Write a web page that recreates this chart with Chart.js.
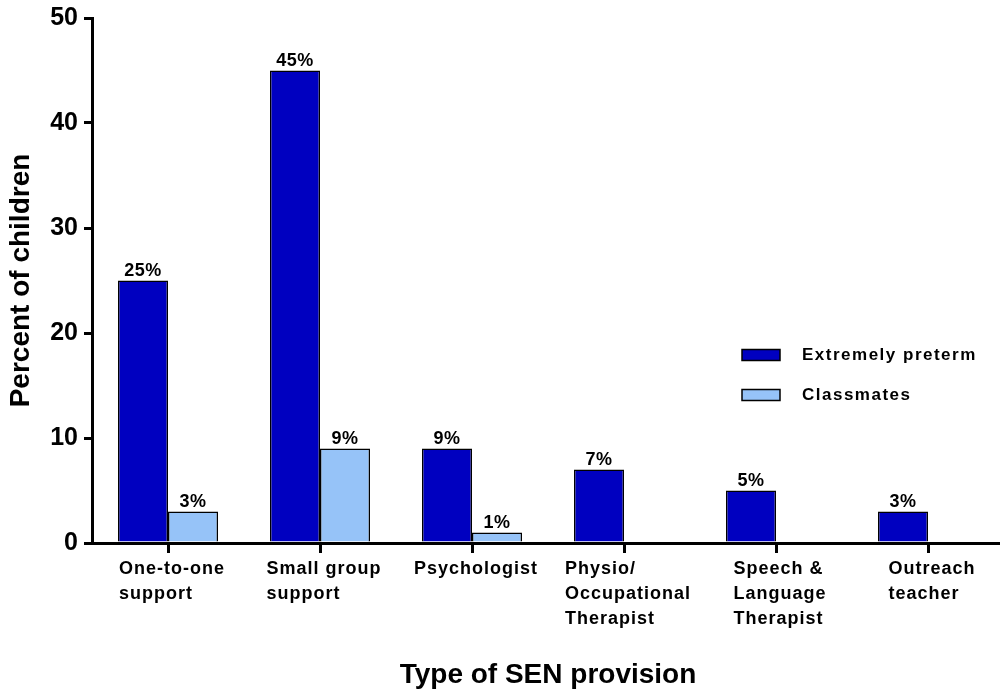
<!DOCTYPE html>
<html>
<head>
<meta charset="utf-8">
<script src="https://cdn.jsdelivr.net/npm/chart.js@4"></script>
<style>
    html, body { margin: 0; padding: 0; background: #fff; overflow: hidden; }
    #wrap { width: 1000px; height: 694px; overflow: hidden; }
</style>
</head>
<body>
<div id="wrap"><canvas id="senChart" width="1004" height="694"></canvas></div>
<script>
const categories = [
    ["One-to-one", "support"],
    ["Small group", "support"],
    ["Psychologist"],
    ["Physio/", "Occupational", "Therapist"],
    ["Speech &", "Language", "Therapist"],
    ["Outreach", "teacher"]
];
const pretermValues = [25, 45, 9, 7, 5, 3];
const classmateValues = [3, 9, 1, null, null, null];
const yTicks = [0, 10, 20, 30, 40, 50];

const FONT = "'Liberation Sans', Arial, Helvetica, sans-serif";
const DARK = "#0000c0";
const LIGHT = "#96c3f8";

// x labels: left-aligned block, centred under each tick
const xLabelPlugin = {
    id: "xLabels",
    afterDraw(chart) {
        const ctx = chart.ctx;
        const xs = chart.scales.x;
        ctx.save();
        ctx.font = "bold 18px " + FONT;
        ctx.letterSpacing = "1px";
        ctx.fillStyle = "#000";
        ctx.textAlign = "left";
        ctx.textBaseline = "alphabetic";
        categories.forEach((lines, i) => {
            const cx = xs.getPixelForTick(i);
            const w = Math.max(...lines.map(l => ctx.measureText(l).width));
            lines.forEach((l, j) => {
                ctx.fillText(l, cx - w / 2 + 4, xs.top + 31 + j * 25);
            });
        });
        ctx.restore();
    }
};

// percentage labels above bars
const valueLabelPlugin = {
    id: "valueLabels",
    afterDatasetsDraw(chart) {
        const ctx = chart.ctx;
        ctx.save();
        ctx.font = "bold 18px " + FONT;
        ctx.letterSpacing = "0.5px";
        ctx.fillStyle = "#000";
        ctx.textAlign = "center";
        ctx.textBaseline = "alphabetic";
        chart.data.datasets.forEach((ds, di) => {
            chart.getDatasetMeta(di).data.forEach((bar, i) => {
                const v = ds.data[i];
                if (v == null) return;
                ctx.fillText(v + "%", bar.x, bar.y - 5);
            });
        });
        ctx.restore();
    }
};

// legend inside the plot
const legendPlugin = {
    id: "innerLegend",
    afterDraw(chart) {
        const ctx = chart.ctx;
        ctx.save();
        ctx.font = "bold 17px " + FONT;
        ctx.letterSpacing = "1.5px";
        ctx.textBaseline = "middle";
        ctx.textAlign = "left";
        chart.data.datasets.forEach((ds, i) => {
            const y = 355 + i * 40;
            ctx.fillStyle = ds.backgroundColor;
            ctx.fillRect(742, y - 5.5, 38, 11);
            ctx.strokeStyle = "#000";
            ctx.lineWidth = 1.5;
            ctx.strokeRect(742, y - 5.5, 38, 11);
            ctx.fillStyle = "#000";
            ctx.fillText(ds.label, 802, y);
        });
        ctx.restore();
    }
};

new Chart(document.getElementById("senChart"), {
    type: "bar",
    data: {
        labels: categories.map(c => c.join(" ")),
        datasets: [
            {
                label: "Extremely preterm",
                data: pretermValues,
                backgroundColor: DARK,
                borderColor: "#000",
                borderWidth: 1.5,
                barPercentage: 1,
                categoryPercentage: 0.658
            },
            {
                label: "Classmates",
                data: classmateValues,
                backgroundColor: LIGHT,
                borderColor: "#000",
                borderWidth: 1.5,
                barPercentage: 1,
                categoryPercentage: 0.658
            }
        ]
    },
    options: {
        responsive: false,
        animation: false,
        layout: { padding: { top: 18, right: 0 } },
        plugins: {
            legend: { display: false },
            tooltip: { enabled: false }
        },
        scales: {
            x: {
                afterFit(scale) {
                    scale.height = 151;
                    scale.paddingLeft = 0;
                    scale.paddingRight = 0;
                },
                grid: {
                    offset: false,
                    drawOnChartArea: false,
                    color: "#000",
                    lineWidth: 3,
                    tickLength: 10
                },
                border: { color: "#000", width: 3 },
                ticks: { display: false },
                title: {
                    display: true,
                    text: "Type of SEN provision",
                    color: "#000",
                    font: { family: FONT, size: 28, weight: "bold" },
                    padding: { top: 0, bottom: 2 }
                }
            },
            y: {
                min: 0,
                max: 50,
                afterFit(scale) {
                    scale.width = 92;
                    scale.paddingTop = 0;
                    scale.paddingBottom = 0;
                },
                afterBuildTicks(scale) { scale.ticks = yTicks.map(v => ({ value: v })); },
                grid: {
                    drawOnChartArea: false,
                    color: "#000",
                    lineWidth: 3,
                    tickLength: 8
                },
                border: { color: "#000", width: 3 },
                ticks: {
                    color: "#000",
                    padding: 6,
                    font: { family: FONT, size: 25, weight: "bold" }
                },
                title: {
                    display: true,
                    text: "Percent of children",
                    color: "#000",
                    font: { family: FONT, size: 28, weight: "bold" },
                    padding: { top: 4, bottom: 0 }
                }
            }
        }
    },
    plugins: [xLabelPlugin, valueLabelPlugin, legendPlugin]
});
</script>
</body>
</html>
